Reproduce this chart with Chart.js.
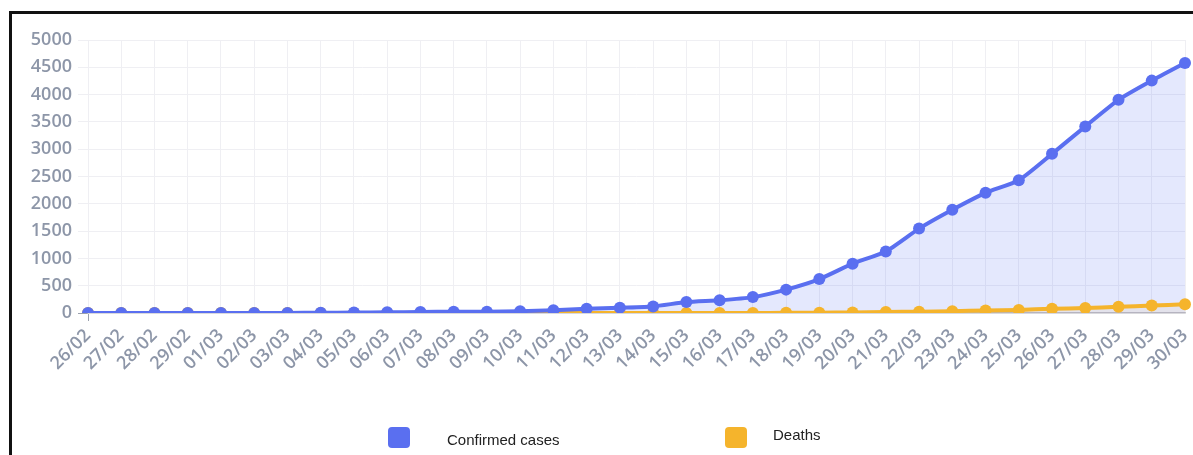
<!DOCTYPE html>
<html>
<head>
<meta charset="utf-8">
<script src="https://cdn.jsdelivr.net/npm/chart.js@4.4.1/dist/chart.umd.min.js"></script>
<style>
  html, body { margin: 0; padding: 0; background: #fff; }
  body { width: 1193px; height: 455px; position: relative; overflow: hidden; }
  #frame { position: absolute; left: 9px; top: 11px; width: 1300px; height: 600px;
           border-left: 3px solid #111; border-top: 3px solid #111; box-sizing: border-box; }
  #wrap { position: absolute; left: 0; top: 0; width: 1193px; height: 455px; }
  .lg { position: absolute; font-family: "Liberation Sans", Arial, sans-serif; font-size: 15px; color: #222; white-space: nowrap; }
  .box { position: absolute; width: 22px; height: 21px; border-radius: 4px; }
</style>
</head>
<body>
<div id="frame"></div>
<div id="wrap"><canvas id="c"></canvas></div>
<div class="box" style="left:388px; top:427px; background:#5a6ff0;"></div>
<div class="lg" style="left:447px; top:431px;">Confirmed cases</div>
<div class="box" style="left:725px; top:427px; background:#f5b42c;"></div>
<div class="lg" style="left:773px; top:426px;">Deaths</div>
<script>
const categories = ["26/02","27/02","28/02","29/02","01/03","02/03","03/03","04/03","05/03","06/03","07/03","08/03","09/03","10/03","11/03","12/03","13/03","14/03","15/03","16/03","17/03","18/03","19/03","20/03","21/03","22/03","23/03","24/03","25/03","26/03","27/03","28/03","29/03","30/03"];
const confirmedCases = [1,1,1,2,2,2,2,3,8,13,19,25,25,34,52,77,98,121,200,234,291,428,621,904,1128,1546,1891,2201,2433,2915,3417,3904,4256,4579];
const deaths = [0,0,0,0,0,0,0,0,0,0,0,0,0,0,0,0,0,0,0,0,1,3,6,11,18,25,34,46,57,77,92,114,136,159];
const yTicks = [0,500,1000,1500,2000,2500,3000,3500,4000,4500,5000];

const BLUE = '#5a6ff0';
const ORANGE = '#f5b42c';
const GRID = '#efeff3';
const TICKFONT = { family: 'Open Sans', size: 18, weight: '600' };
const TICKCOLOR = '#8d96a8';

new Chart(document.getElementById('c'), {
  type: 'line',
  data: {
    labels: categories,
    datasets: [
      {
        label: 'Confirmed cases',
        data: confirmedCases,
        borderColor: BLUE,
        backgroundColor: 'rgba(90,111,240,0.16)',
        pointBackgroundColor: BLUE,
        pointBorderColor: BLUE,
        pointRadius: 6,
        pointBorderWidth: 0,
        borderWidth: 4,
        tension: 0.2,
        fill: 'origin'
      },
      {
        label: 'Deaths',
        data: deaths,
        borderColor: ORANGE,
        backgroundColor: 'rgba(245,180,44,0.10)',
        pointBackgroundColor: ORANGE,
        pointBorderColor: ORANGE,
        pointRadius: 6,
        pointBorderWidth: 0,
        borderWidth: 4,
        tension: 0.2,
        fill: 'origin'
      }
    ]
  },
  options: {
    responsive: true,
    maintainAspectRatio: false,
    animation: false,
    layout: { padding: { left: 12, right: 8, top: 40, bottom: 0 } },
    plugins: {
      legend: { display: false },
      tooltip: { enabled: false },
      filler: { drawTime: 'beforeDatasetsDraw' }
    },
    scales: {
      x: {
        offset: false,
        grid: {
          color: GRID,
          tickLength: 8,
          tickColor: (ctx) => ctx.index === 0 ? '#9aa0ad' : 'rgba(0,0,0,0)'
        },
        border: { color: '#c4c4c8', width: 1.5 },
        ticks: {
          autoSkip: false,
          minRotation: 45,
          maxRotation: 45,
          padding: 4,
          color: TICKCOLOR,
          font: TICKFONT
        },
        afterFit: (s) => { s.height = 142; s.paddingRight = 0; s.paddingLeft = 0; }
      },
      y: {
        min: 0,
        max: 5000,
        afterBuildTicks: (s) => { s.ticks = yTicks.map(v => ({ value: v })); },
        grid: {
          color: GRID,
          tickLength: 10,
          tickColor: (ctx) => (ctx.tick && ctx.tick.value === 0) ? '#9aa0ad' : GRID
        },
        border: { display: false },
        ticks: {
          padding: 6,
          color: TICKCOLOR,
          font: TICKFONT,
          callback: (v) => String(v)
        },
        afterFit: (s) => { s.width = 76; s.paddingTop = 0; s.paddingBottom = 0; }
      }
    }
  }
});
</script>
</body>
</html>
